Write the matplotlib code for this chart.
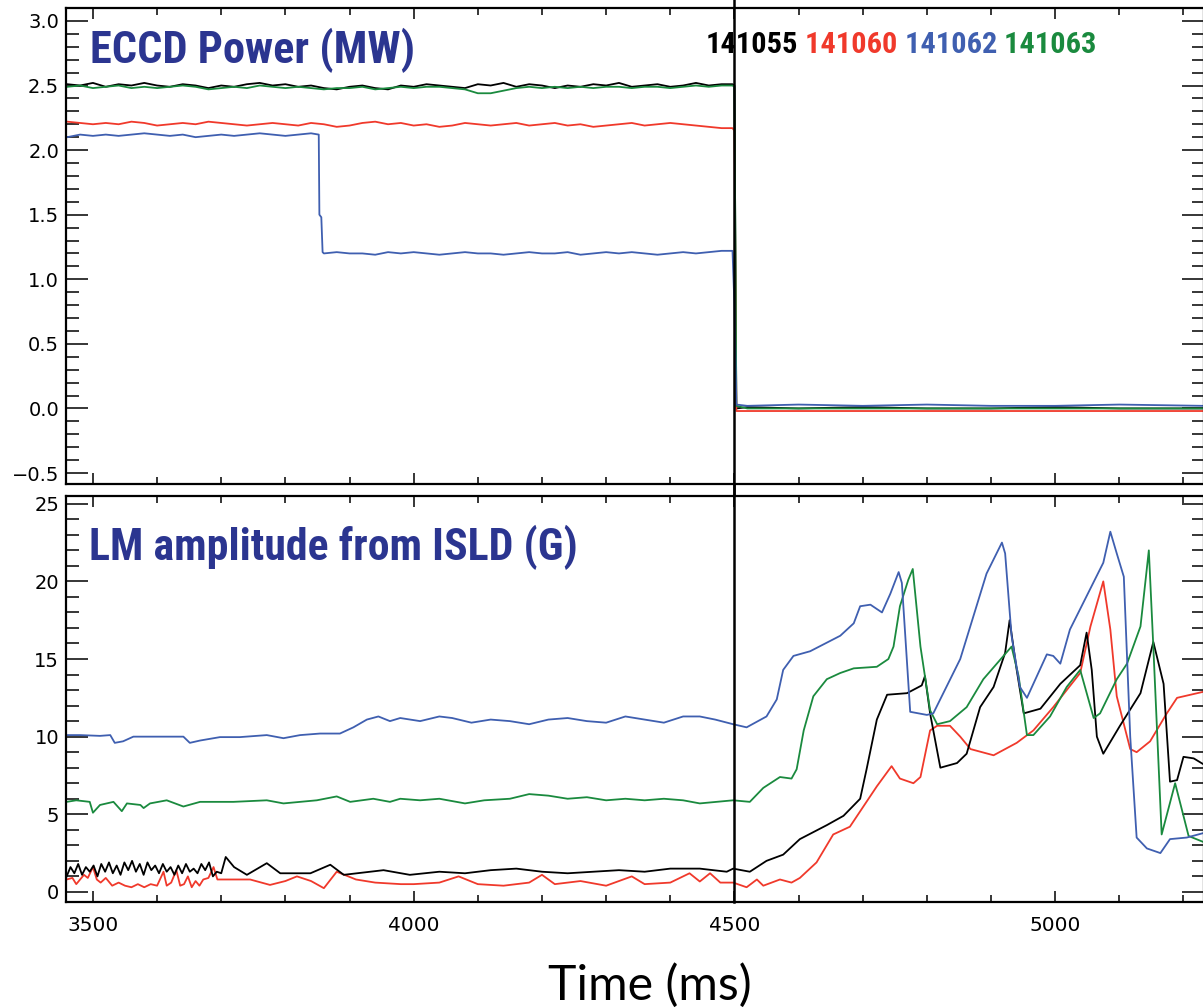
import matplotlib
matplotlib.use("Agg")
import matplotlib.pyplot as plt
from matplotlib.ticker import MultipleLocator
from matplotlib import font_manager

# colours of the four shots
c_black = "#000000"
c_red = "#F0392B"
c_blue = "#3F5FB0"
c_green = "#1A8A3E"
c_title = "#2B3590"

shots = ["141055", "141060", "141062", "141063"]

# ---- ECCD power (MW), sampled every 20 ms before turn-off ----
t_pow = [3460, 3480, 3500, 3520, 3540, 3560, 3580, 3600, 3620, 3640,
         3660, 3680, 3700, 3720, 3740, 3760, 3780, 3800, 3820, 3840,
         3860, 3880, 3900, 3920, 3940, 3960, 3980, 4000, 4020, 4040,
         4060, 4080, 4100, 4120, 4140, 4160, 4180, 4200, 4220, 4240,
         4260, 4280, 4300, 4320, 4340, 4360, 4380, 4400, 4420, 4440,
         4460, 4480]
pow_black = [2.51, 2.50, 2.52, 2.49, 2.51, 2.50, 2.52, 2.50, 2.49, 2.51,
             2.50, 2.48, 2.50, 2.49, 2.51, 2.52, 2.50, 2.51, 2.49, 2.50,
             2.48, 2.47, 2.49, 2.50, 2.48, 2.47, 2.50, 2.49, 2.51, 2.50,
             2.49, 2.48, 2.51, 2.50, 2.52, 2.49, 2.51, 2.50, 2.48, 2.50,
             2.49, 2.51, 2.50, 2.52, 2.49, 2.50, 2.51, 2.49, 2.50, 2.52,
             2.50, 2.51]
pow_green = [2.49, 2.50, 2.48, 2.49, 2.50, 2.48, 2.49, 2.48, 2.49, 2.50,
             2.49, 2.47, 2.48, 2.49, 2.48, 2.50, 2.49, 2.48, 2.49, 2.48,
             2.47, 2.48, 2.48, 2.49, 2.47, 2.48, 2.49, 2.48, 2.49, 2.49,
             2.48, 2.47, 2.44, 2.44, 2.46, 2.48, 2.49, 2.48, 2.49, 2.48,
             2.49, 2.48, 2.49, 2.49, 2.48, 2.49, 2.49, 2.48, 2.49, 2.50,
             2.49, 2.50]
pow_red = [2.22, 2.21, 2.20, 2.21, 2.20, 2.22, 2.21, 2.19, 2.20, 2.21,
           2.20, 2.22, 2.21, 2.20, 2.19, 2.20, 2.21, 2.20, 2.19, 2.21,
           2.20, 2.18, 2.19, 2.21, 2.22, 2.20, 2.21, 2.19, 2.20, 2.18,
           2.19, 2.21, 2.20, 2.19, 2.20, 2.21, 2.19, 2.20, 2.21, 2.19,
           2.20, 2.18, 2.19, 2.20, 2.21, 2.19, 2.20, 2.21, 2.20, 2.19,
           2.18, 2.17]
pow_blue = [2.10, 2.12, 2.11, 2.12, 2.11, 2.12, 2.13, 2.12, 2.11, 2.12,
            2.10, 2.11, 2.12, 2.11, 2.12, 2.13, 2.12, 2.11, 2.12, 2.13,
            1.20, 1.21, 1.20, 1.20, 1.19, 1.21, 1.20, 1.21, 1.20, 1.19,
            1.20, 1.21, 1.20, 1.20, 1.19, 1.20, 1.21, 1.20, 1.20, 1.21,
            1.19, 1.20, 1.21, 1.20, 1.21, 1.20, 1.19, 1.20, 1.21, 1.20,
            1.21, 1.22]
# the partial ECCD cut of 141062
blue_step = [(3852, 2.12), (3853, 1.50), (3856, 1.48), (3858, 1.21)]

# turn-off at 4500 ms and flat afterwards
t_off = [4497, 4500, 4503, 4520, 4600, 4700, 4800, 4900, 5000, 5100, 5232]
off_black = [2.51, 2.50, 0.00, 0.01, 0.00, 0.01, 0.00, 0.00, 0.01, 0.00, 0.00]
off_green = [2.50, 2.49, 0.02, 0.00, 0.00, 0.00, 0.00, 0.00, 0.00, 0.00, 0.00]
off_red = [2.17, 2.15, -0.02, -0.02, -0.02, -0.02, -0.02, -0.02, -0.02, -0.02, -0.02]
off_blue = [1.22, 0.80, 0.03, 0.02, 0.03, 0.02, 0.03, 0.02, 0.02, 0.03, 0.02]

# ---- LM amplitude from ISLD (G): (time ms, value) ----
lm_blue = [(3459, 10.1), (3480, 10.1), (3511, 10.05), (3527, 10.1), (3534, 9.6),
           (3547, 9.7), (3563, 10.0), (3589, 10.0), (3641, 10.0), (3651, 9.6),
           (3667, 9.75), (3698, 9.97), (3729, 9.97), (3771, 10.1), (3797, 9.9),
           (3823, 10.1), (3854, 10.2), (3885, 10.2), (3906, 10.6), (3927, 11.1),
           (3945, 11.3), (3963, 11.0), (3979, 11.2), (4010, 11.0), (4040, 11.3),
           (4060, 11.2), (4090, 10.9), (4120, 11.1), (4150, 11.0), (4180, 10.8),
           (4210, 11.1), (4240, 11.2), (4270, 11.0), (4300, 10.9), (4330, 11.3),
           (4360, 11.1), (4390, 10.9), (4420, 11.3), (4446, 11.3), (4470, 11.1),
           (4498, 10.8), (4519, 10.6), (4550, 11.3), (4566, 12.4), (4576, 14.3),
           (4592, 15.2), (4618, 15.5), (4665, 16.5), (4686, 17.3), (4696, 18.4),
           (4712, 18.5), (4730, 18.0), (4743, 19.2), (4756, 20.6), (4761, 19.9),
           (4774, 11.6), (4800, 11.4), (4810, 11.5), (4852, 15.0), (4893, 20.5),
           (4917, 22.5), (4922, 21.8), (4932, 16.5), (4945, 13.2), (4956, 12.5),
           (4987, 15.3), (4997, 15.2), (5008, 14.7), (5023, 16.9), (5075, 21.2),
           (5086, 23.2), (5096, 21.8), (5107, 20.3), (5117, 10.0), (5127, 3.5),
           (5143, 2.8), (5164, 2.5), (5179, 3.4), (5205, 3.5), (5232, 3.8)]

lm_green = [(3459, 5.8), (3474, 5.9), (3495, 5.8), (3500, 5.1), (3511, 5.6),
            (3532, 5.8), (3545, 5.2), (3553, 5.7), (3574, 5.6), (3579, 5.4),
            (3589, 5.7), (3615, 5.9), (3641, 5.5), (3667, 5.8), (3719, 5.8),
            (3771, 5.9), (3797, 5.7), (3849, 5.9), (3880, 6.15), (3901, 5.8),
            (3937, 6.0), (3963, 5.8), (3979, 6.0), (4010, 5.9), (4040, 6.0),
            (4080, 5.7), (4110, 5.9), (4150, 6.0), (4180, 6.3), (4210, 6.2),
            (4240, 6.0), (4270, 6.1), (4300, 5.9), (4330, 6.0), (4360, 5.9),
            (4390, 6.0), (4420, 5.9), (4446, 5.7), (4498, 5.9), (4524, 5.8),
            (4545, 6.7), (4571, 7.4), (4589, 7.3), (4597, 7.9), (4608, 10.4),
            (4623, 12.6), (4644, 13.7), (4665, 14.1), (4686, 14.4), (4722, 14.5),
            (4740, 15.0), (4748, 15.8), (4758, 18.4), (4771, 20.1), (4778, 20.8),
            (4790, 15.8), (4805, 11.7), (4816, 10.8), (4836, 11.0), (4862, 11.9),
            (4888, 13.7), (4909, 14.7), (4932, 15.8), (4943, 13.9), (4956, 10.1),
            (4966, 10.1), (4992, 11.3), (5018, 13.2), (5039, 14.3), (5060, 11.2),
            (5070, 11.5), (5096, 13.7), (5112, 14.7), (5133, 17.1), (5146, 22.0),
            (5153, 15.8), (5166, 3.7), (5187, 7.0), (5208, 3.6), (5232, 3.2)]

lm_black = [(3459, 1.0), (3465, 1.6), (3471, 1.2), (3477, 1.8), (3483, 1.1),
            (3489, 1.6), (3495, 1.3), (3501, 1.7), (3507, 1.0), (3513, 1.8),
            (3519, 1.3), (3525, 1.9), (3531, 1.2), (3537, 1.7), (3543, 1.1),
            (3549, 1.9), (3555, 1.4), (3561, 2.0), (3567, 1.3), (3573, 1.8),
            (3579, 1.1), (3585, 1.9), (3591, 1.4), (3597, 1.7), (3603, 1.2),
            (3609, 1.8), (3615, 1.3), (3621, 1.6), (3627, 1.1), (3633, 1.7),
            (3639, 1.2), (3645, 1.8), (3651, 1.3), (3657, 1.5), (3663, 1.2),
            (3669, 1.8), (3675, 1.4), (3681, 1.9), (3687, 1.0), (3693, 1.3),
            (3700, 1.2), (3707, 2.25), (3720, 1.6), (3740, 1.1), (3771, 1.85),
            (3792, 1.2), (3839, 1.2), (3870, 1.75), (3891, 1.1), (3953, 1.4),
            (3994, 1.1), (4040, 1.3), (4080, 1.2), (4120, 1.4), (4160, 1.5),
            (4200, 1.3), (4240, 1.2), (4280, 1.3), (4320, 1.4), (4360, 1.3),
            (4400, 1.5), (4446, 1.5), (4488, 1.3), (4498, 1.5), (4524, 1.3),
            (4550, 2.0), (4576, 2.4), (4602, 3.4), (4644, 4.3), (4670, 4.9),
            (4696, 6.0), (4706, 7.9), (4722, 11.1), (4738, 12.7), (4769, 12.8),
            (4792, 13.3), (4797, 13.9), (4805, 11.5), (4821, 8.0), (4847, 8.3),
            (4862, 8.9), (4883, 11.9), (4904, 13.2), (4922, 15.4), (4929, 17.5),
            (4940, 14.3), (4951, 11.5), (4977, 11.8), (5008, 13.4), (5039, 14.6),
            (5049, 16.7), (5057, 14.3), (5065, 10.0), (5075, 8.9), (5101, 10.7),
            (5133, 12.8), (5153, 16.1), (5169, 13.4), (5179, 7.1), (5190, 7.2),
            (5200, 8.7), (5216, 8.6), (5232, 8.2)]

lm_red = [(3459, 0.8), (3468, 0.9), (3474, 0.5), (3480, 0.8), (3486, 1.1),
          (3492, 0.9), (3500, 1.6), (3506, 0.8), (3512, 0.6), (3520, 0.9),
          (3530, 0.4), (3540, 0.6), (3550, 0.4), (3560, 0.3), (3570, 0.5),
          (3580, 0.3), (3590, 0.5), (3600, 0.4), (3610, 1.3), (3615, 0.4),
          (3622, 0.6), (3630, 1.4), (3636, 0.4), (3642, 0.5), (3648, 1.0),
          (3654, 0.3), (3660, 0.7), (3666, 0.4), (3672, 0.8), (3680, 0.9),
          (3688, 1.6), (3694, 0.8), (3720, 0.8), (3745, 0.8), (3776, 0.45),
          (3800, 0.7), (3818, 1.0), (3840, 0.7), (3860, 0.24), (3880, 1.3),
          (3910, 0.8), (3940, 0.6), (3980, 0.5), (4000, 0.5), (4040, 0.6),
          (4070, 1.0), (4100, 0.5), (4140, 0.4), (4180, 0.6), (4200, 1.1),
          (4220, 0.5), (4260, 0.7), (4300, 0.4), (4340, 1.0), (4360, 0.5),
          (4400, 0.6), (4430, 1.2), (4446, 0.67), (4462, 1.2), (4478, 0.6),
          (4498, 0.6), (4519, 0.3), (4535, 0.8), (4545, 0.4), (4571, 0.8),
          (4589, 0.6), (4602, 0.9), (4628, 1.9), (4654, 3.7), (4680, 4.2),
          (4701, 5.5), (4722, 6.8), (4745, 8.1), (4758, 7.3), (4779, 7.0),
          (4790, 7.4), (4805, 10.4), (4816, 10.7), (4836, 10.7), (4852, 10.0),
          (4868, 9.2), (4904, 8.8), (4940, 9.6), (4966, 10.4), (4997, 11.9),
          (5039, 14.1), (5055, 17.1), (5075, 20.0), (5086, 16.9), (5096, 12.6),
          (5117, 9.2), (5127, 9.0), (5148, 9.7), (5174, 11.5), (5190, 12.5),
          (5232, 12.9)]

t_switch = 4500


def pick_font(names):
    for n in names:
        try:
            font_manager.findfont(n, fallback_to_default=False)
            return n
        except ValueError:
            pass
    return "DejaVu Sans"


narrow = pick_font(["Liberation Sans Narrow", "Roboto Condensed", "Liberation Sans"])
thin = pick_font(["Lato", "DejaVu Sans"])


def fit_width(txt, width_px, fig):
    # scale the font so the text spans the wanted width
    r = fig.canvas.get_renderer()
    w = txt.get_window_extent(renderer=r).width
    txt.set_fontsize(txt.get_fontsize() * width_px / w)


def style_axis(ax, ymaj, ymin):
    ax.xaxis.set_major_locator(MultipleLocator(500))
    ax.xaxis.set_minor_locator(MultipleLocator(100))
    ax.yaxis.set_major_locator(MultipleLocator(ymaj))
    ax.yaxis.set_minor_locator(MultipleLocator(ymin))
    ax.tick_params(which="both", direction="in", top=True, right=True,
                   width=1.1, color="black")
    ax.tick_params(axis="y", which="major", length=16, pad=5, labelsize=14)
    ax.tick_params(axis="y", which="minor", length=9)
    ax.tick_params(axis="x", which="major", length=8, pad=10, labelsize=14.5)
    ax.tick_params(axis="x", which="minor", length=5)
    for s in ax.spines.values():
        s.set_linewidth(1.6)


fig = plt.figure(figsize=(12.03, 10.08), dpi=100)
W, H = 1203.0, 1008.0
ax1 = fig.add_axes([66 / W, 1 - 484 / H, (1204 - 66) / W, (484 - 8) / H])
ax2 = fig.add_axes([66 / W, 1 - 902 / H, (1204 - 66) / W, (902 - 496) / H])

# ---- top panel ----
lw = 1.3
ax1.plot(t_pow + t_off, pow_black + off_black, color=c_black, lw=lw)
ax1.plot(t_pow + t_off, pow_red + off_red, color=c_red, lw=lw)
ax1.plot(t_pow + t_off, pow_green + off_green, color=c_green, lw=lw)
blue_pts = sorted(list(zip(t_pow, pow_blue)) + blue_step + list(zip(t_off, off_blue)))
ax1.plot([p[0] for p in blue_pts], [p[1] for p in blue_pts], color=c_blue, lw=lw)

ax1.set_xlim(3458, 5232)
ax1.set_ylim(-0.585, 3.1)
style_axis(ax1, 0.5, 0.1)
ax1.tick_params(labelbottom=False)

# ---- bottom panel ----
for series, col in [(lm_red, c_red), (lm_black, c_black), (lm_green, c_green), (lm_blue, c_blue)]:
    ax2.plot([p[0] for p in series], [p[1] for p in series], color=col, lw=lw)
ax2.set_xlim(3458, 5232)
ax2.set_ylim(-0.65, 25.5)
style_axis(ax2, 5, 1)

# vertical marker at ECCD turn-off, running through both panels
ax1.axvline(t_switch, ymin=-0.03, ymax=1.02, color="black", lw=1.8, clip_on=False, zorder=5)
ax2.axvline(t_switch, ymin=0, ymax=1.03, color="black", lw=1.8, clip_on=False, zorder=5)

# ---- labels ----
t1 = ax1.text(0.021, 0.884, "ECCD Power (MW)", transform=ax1.transAxes,
              fontsize=33, fontweight="bold", family=narrow, color=c_title,
              va="baseline", ha="left")
t2 = ax2.text(0.020, 0.842, "LM amplitude from ISLD (G)", transform=ax2.transAxes,
              fontsize=33, fontweight="bold", family=narrow, color=c_title,
              va="baseline", ha="left")
fit_width(t1, 325, fig)
fit_width(t2, 489, fig)

leg = []
prev = ax1.text(706 / W, 1 - 53 / H, shots[0], transform=fig.transFigure,
                fontsize=24, fontweight="bold", family=narrow, color=c_black,
                va="baseline", ha="left", zorder=6)
leg.append(prev)
for name, col in zip(shots[1:], [c_red, c_blue, c_green]):
    prev = ax1.annotate(" " + name, xy=(1, 0), xycoords=prev, va="bottom", ha="left",
                        fontsize=24, fontweight="bold", family=narrow, color=col)
    leg.append(prev)
fig.canvas.draw()
r = fig.canvas.get_renderer()
total = leg[-1].get_window_extent(r).x1 - leg[0].get_window_extent(r).x0
scale = 392 / total
for t in leg:
    t.set_fontsize(t.get_fontsize() * scale)

tx = fig.text(650 / W, 8 / H, "Time (ms)", family=thin, fontsize=34,
              ha="center", va="baseline", color="black")
fit_width(tx, 204, fig)

fig.savefig("out.png", dpi=100)
